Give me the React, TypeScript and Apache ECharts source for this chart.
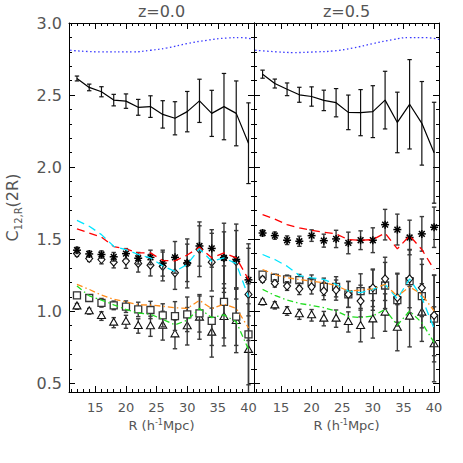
import React, { useEffect, useRef } from 'react';
import * as echarts from 'echarts';

const FONT = 'DejaVu Sans';
const TXT = '#555';

const R = [12, 14, 16, 18, 20, 22, 24, 26, 28, 30, 32, 34, 36, 38, 40];
const X_MIN = [10.7, 10.6];
const X_MAX = [40.9, 40.8];
const Y_MIN = 0.44;
const Y_MAX = 3.0;
const X_MAJOR = [15, 20, 25, 30, 35, 40];
const X_MINOR = [11, 12, 13, 14, 16, 17, 18, 19, 21, 22, 23, 24, 26, 27, 28, 29, 31, 32, 33, 34, 36, 37, 38, 39];
const Y_MAJOR = [0.5, 1.0, 1.5, 2.0, 2.5, 3.0];
const Y_MINOR = [0.6, 0.7, 0.8, 0.9, 1.1, 1.2, 1.3, 1.4, 1.6, 1.7, 1.8, 1.9, 2.1, 2.2, 2.3, 2.4, 2.6, 2.7, 2.8, 2.9];
const TITLES = ['z=0.0', 'z=0.5'];

// ---- z = 0.0 panel ----
const blueXL = [10.9, 15.8, 21.2, 24, 26.7, 30, 33.2, 36.5, 38.7, 40.8];
const blueL = [2.811, 2.8, 2.8, 2.811, 2.827, 2.857, 2.88, 2.896, 2.899, 2.887];
const blackL = [2.615, 2.553, 2.523, 2.465, 2.458, 2.415, 2.42, 2.366, 2.339, 2.385, 2.46, 2.373, 2.42, 2.373, 2.166];
const blackErrL = [0.017, 0.023, 0.035, 0.04, 0.05, 0.055, 0.075, 0.095, 0.115, 0.14, 0.15, 0.16, 0.23, 0.225, 0.28];
const starL = [1.424, 1.398, 1.394, 1.378, 1.4, 1.368, 1.374, 1.334, 1.374, 1.336, 1.453, 1.436, 1.371, 1.36, 1.218];
const starErrL = [0.02, 0.02, 0.025, 0.03, 0.035, 0.04, 0.05, 0.09, 0.11, 0.13, 0.14, 0.13, 0.18, 0.2, 0.25];
const diamondL = [1.401, 1.366, 1.359, 1.341, 1.348, 1.332, 1.32, 1.311, 1.267, 1.332, 1.43, 1.341, 1.371, 1.345, 1.117];
const diamondErrL = [0.02, 0.02, 0.03, 0.04, 0.05, 0.06, 0.075, 0.1, 0.115, 0.17, 0.19, 0.2, 0.24, 0.26, 0.32];
const redL = [1.571, 1.543, 1.515, 1.449, 1.433, 1.405, 1.405, 1.352, 1.35, 1.39, 1.445, 1.371, 1.405, 1.371, 1.221];
const cyanL = [1.631, 1.59, 1.532, 1.451, 1.428, 1.394, 1.371, 1.315, 1.276, 1.325, 1.434, 1.347, 1.371, 1.33, 1.1];
const squareL = [1.11, 1.092, 1.059, 1.041, 1.032, 1.013, 1.009, 0.972, 0.967, 0.979, 0.986, 0.933, 1.065, 0.963, 0.84];
const squareErrL = [0.02, 0.02, 0.03, 0.03, 0.04, 0.05, 0.06, 0.08, 0.1, 0.12, 0.13, 0.17, 0.25, 0.2, 0.35];
const orangeL = [1.186, 1.152, 1.112, 1.083, 1.065, 1.045, 1.043, 1.035, 1.025, 1.02, 1.076, 1.018, 1.05, 1.02, 0.885];
const greenL = [1.175, 1.107, 1.078, 1.045, 1.013, 0.988, 0.979, 0.944, 0.906, 0.938, 1.02, 0.956, 0.975, 0.927, 0.735];
const triangleL = [1.034, 1.0, 0.967, 0.921, 0.927, 0.898, 0.896, 0.9, 0.84, 0.896, 0.956, 0.852, 0.96, 0.933, 0.732];
const triangleErrL = [0.02, 0.02, 0.03, 0.035, 0.045, 0.05, 0.07, 0.1, 0.1, 0.13, 0.15, 0.17, 0.2, 0.22, 0.32];

// ---- z = 0.5 panel ----
const blueXR = [10.8, 14.3, 17, 20.8, 23.5, 26.8, 30, 33.3, 36, 38.2, 40.8];
const blueR = [2.811, 2.8, 2.795, 2.8, 2.806, 2.827, 2.857, 2.885, 2.899, 2.899, 2.887];
const blackR = [2.645, 2.58, 2.54, 2.502, 2.49, 2.463, 2.447, 2.38, 2.378, 2.385, 2.465, 2.31, 2.436, 2.304, 2.1];
const blackErrR = [0.028, 0.031, 0.044, 0.052, 0.067, 0.071, 0.098, 0.12, 0.16, 0.18, 0.2, 0.21, 0.31, 0.29, 0.35];
const starR = [1.543, 1.525, 1.493, 1.486, 1.525, 1.49, 1.502, 1.474, 1.493, 1.493, 1.601, 1.567, 1.512, 1.537, 1.583];
const starErrR = [0.02, 0.025, 0.03, 0.035, 0.04, 0.045, 0.06, 0.075, 0.065, 0.086, 0.106, 0.107, 0.12, 0.12, 0.14];
const diamondR = [1.221, 1.193, 1.175, 1.156, 1.17, 1.14, 1.147, 1.117, 1.071, 1.163, 1.225, 1.094, 1.225, 1.163, 0.972];
const diamondErrR = [0.02, 0.025, 0.03, 0.04, 0.05, 0.06, 0.07, 0.09, 0.11, 0.13, 0.15, 0.17, 0.2, 0.2, 0.28];
const redR = [1.67, 1.64, 1.601, 1.578, 1.562, 1.548, 1.537, 1.497, 1.493, 1.497, 1.543, 1.433, 1.525, 1.428, 1.29];
const cyanR = [1.394, 1.359, 1.313, 1.248, 1.232, 1.221, 1.186, 1.14, 1.129, 1.152, 1.186, 1.087, 1.225, 1.094, 0.88];
const squareR = [1.255, 1.232, 1.221, 1.216, 1.202, 1.17, 1.17, 1.117, 1.14, 1.147, 1.179, 1.078, 1.209, 1.105, 0.949];
const squareErrR = [0.02, 0.025, 0.03, 0.04, 0.05, 0.06, 0.07, 0.09, 0.12, 0.14, 0.16, 0.18, 0.22, 0.22, 0.3];
const orangeR = [1.29, 1.255, 1.232, 1.221, 1.209, 1.198, 1.179, 1.14, 1.147, 1.156, 1.186, 1.105, 1.17, 1.117, 1.002];
const greenR = [1.152, 1.11, 1.078, 1.055, 1.041, 1.025, 1.002, 0.963, 0.956, 0.967, 1.013, 0.903, 1.002, 0.921, 0.783];
const triangleR = [1.064, 1.041, 1.002, 0.979, 0.972, 0.949, 0.949, 0.926, 0.898, 0.944, 0.991, 0.886, 0.963, 0.991, 0.771];
const triangleErrR = [0.02, 0.025, 0.03, 0.035, 0.04, 0.05, 0.06, 0.07, 0.11, 0.13, 0.13, 0.16, 0.21, 0.2, 0.26];

const PANELS = [
  { blueX: blueXL, blue: blueL, black: blackL, blackErr: blackErrL, star: starL, starErr: starErrL, diamond: diamondL, diamondErr: diamondErrL, red: redL, cyan: cyanL, square: squareL, squareErr: squareErrL, orange: orangeL, green: greenL, triangle: triangleL, triangleErr: triangleErrL },
  { blueX: blueXR, blue: blueR, black: blackR, blackErr: blackErrR, star: starR, starErr: starErrR, diamond: diamondR, diamondErr: diamondErrR, red: redR, cyan: cyanR, square: squareR, squareErr: squareErrR, orange: orangeR, green: greenR, triangle: triangleR, triangleErr: triangleErrR },
];

const GRIDS = [
  { left: 69, top: 23, width: 185, height: 369 },
  { left: 254, top: 23, width: 185, height: 369 },
];

const makeRender = (kind: string) => (params: any, api: any) => {
  const x = api.value(0), y = api.value(1), e = api.value(2);
  const c = api.coord([x, y]);
  const hi = Math.min(y + e, Y_MAX), lo = Math.max(y - e, Y_MIN);
  const t = api.coord([x, hi]);
  const b = api.coord([x, lo]);
  const bar = { stroke: kind === 'none' ? '#111' : '#3a3a3a', lineWidth: kind === 'none' ? 1.2 : 1.4 };
  const ch: any[] = [{ type: 'line', shape: { x1: c[0], y1: t[1], x2: c[0], y2: b[1] }, style: bar }];
  const cw = 2.2;
  if (y + e < Y_MAX) ch.push({ type: 'line', shape: { x1: c[0] - cw, y1: t[1], x2: c[0] + cw, y2: t[1] }, style: bar });
  if (y - e > Y_MIN) ch.push({ type: 'line', shape: { x1: c[0] - cw, y1: b[1], x2: c[0] + cw, y2: b[1] }, style: bar });
  const ms = { stroke: '#111', lineWidth: 1.1, fill: '#fff' };
  const cx = c[0], cy = c[1];
  if (kind === 'star') {
    const h = 4;
    const d = h * 0.72;
    ch.push({ type: 'line', shape: { x1: cx - h, y1: cy, x2: cx + h, y2: cy }, style: { stroke: '#000', lineWidth: 1.5 } });
    ch.push({ type: 'line', shape: { x1: cx, y1: cy - h, x2: cx, y2: cy + h }, style: { stroke: '#000', lineWidth: 1.5 } });
    ch.push({ type: 'line', shape: { x1: cx - d, y1: cy - d, x2: cx + d, y2: cy + d }, style: { stroke: '#000', lineWidth: 1.5 } });
    ch.push({ type: 'line', shape: { x1: cx - d, y1: cy + d, x2: cx + d, y2: cy - d }, style: { stroke: '#000', lineWidth: 1.5 } });
  } else if (kind === 'diamond') {
    ch.push({ type: 'polygon', shape: { points: [[cx, cy - 4], [cx + 3.5, cy], [cx, cy + 4], [cx - 3.5, cy]] }, style: ms });
  } else if (kind === 'square') {
    ch.push({ type: 'rect', shape: { x: cx - 3.5, y: cy - 3.5, width: 7, height: 7 }, style: { stroke: '#333', lineWidth: 1.3, fill: '#fff' } });
  } else if (kind === 'triangle') {
    ch.push({ type: 'polygon', shape: { points: [[cx, cy - 4.5], [cx + 4, cy + 2.5], [cx - 4, cy + 2.5]] }, style: ms });
  }
  return { type: 'group', children: ch };
};

function buildOption() {
  const xAxis: any[] = [];
  const yAxis: any[] = [];
  for (let g = 0; g < 2; g++) {
    const xDefs = [
      { pos: 'bottom', major: true, label: true },
      { pos: 'bottom', major: false, label: false },
      { pos: 'top', major: true, label: false },
      { pos: 'top', major: false, label: false },
    ];
    xDefs.forEach((d) => {
      xAxis.push({
        type: 'value', gridIndex: g, position: d.pos, min: X_MIN[g], max: X_MAX[g],
        axisLine: { show: d.major, onZero: false, lineStyle: { color: '#000', width: 1 } },
        axisTick: { show: true, inside: true, length: d.major ? 6 : 3, customValues: d.major ? X_MAJOR : X_MINOR, lineStyle: { color: '#000', width: 1 } },
        axisLabel: d.label
          ? { show: true, customValues: X_MAJOR, margin: 9, fontSize: 13, color: TXT, fontFamily: FONT }
          : { show: false },
        splitLine: { show: false },
        name: d.label ? 'R (h{sup|-1}Mpc)' : '',
        nameLocation: 'middle',
        nameGap: 26,
        nameTextStyle: {
          fontSize: 13, color: TXT, fontFamily: FONT,
          rich: { sup: { fontSize: 8, color: TXT, fontFamily: FONT, verticalAlign: 'top', lineHeight: 14 } },
        },
      });
    });
    const yDefs = [
      { pos: 'left', major: true, label: g === 0 },
      { pos: 'left', major: false, label: false },
      { pos: 'right', major: true, label: false },
      { pos: 'right', major: false, label: false },
    ];
    yDefs.forEach((d) => {
      yAxis.push({
        type: 'value', gridIndex: g, position: d.pos, min: Y_MIN, max: Y_MAX,
        axisLine: { show: d.major, onZero: false, lineStyle: { color: '#000', width: 1 } },
        axisTick: { show: true, inside: true, length: d.major ? 6 : 3, customValues: d.major ? Y_MAJOR : Y_MINOR, lineStyle: { color: '#000', width: 1 } },
        axisLabel: d.label
          ? { show: true, customValues: Y_MAJOR, margin: 7, fontSize: 16, color: TXT, fontFamily: FONT, formatter: (v: number) => v.toFixed(1) }
          : { show: false },
        splitLine: { show: false },
        name: d.label ? 'C{sub|12,R}(2R)' : '',
        nameLocation: 'middle',
        nameGap: 46,
        nameTextStyle: {
          fontSize: 16, color: TXT, fontFamily: FONT,
          rich: { sub: { fontSize: 10, color: TXT, fontFamily: FONT, verticalAlign: 'bottom', lineHeight: 22 } },
        },
      });
    });
  }

  const series: any[] = [];
  PANELS.forEach((P, p) => {
    const xi = p * 4, yi = p * 4;
    const line = (vals: number[], xs: number[], color: string, type: any, width: number, smooth = false) => ({
      type: 'line', xAxisIndex: xi, yAxisIndex: yi, showSymbol: false, symbol: 'none', smooth,
      data: xs.map((x, i) => [x, vals[i]]), z: 4, silent: true,
      lineStyle: { color, width, type },
    });
    const custom = (vals: number[], errs: number[], kind: string) => ({
      type: 'custom', xAxisIndex: xi, yAxisIndex: yi, renderItem: makeRender(kind), silent: true, z: 3,
      encode: { x: 0, y: 1 },
      data: R.map((r, i) => [r, vals[i], errs[i]]),
    });
    series.push(line(P.blue, P.blueX, '#3a3aff', [1.5, 2.5], 1.3, true));
    series.push(custom(P.black, P.blackErr, 'none'));
    series.push(line(P.black, R, '#000', 'solid', 1.2));
    series.push(custom(P.triangle, P.triangleErr, 'triangle'));
    series.push(custom(P.square, P.squareErr, 'square'));
    series.push(custom(P.diamond, P.diamondErr, 'diamond'));
    series.push(custom(P.star, P.starErr, 'star'));
    series.push(line(P.red, R, '#ff0000', [8, 5], 1.3));
    series.push(line(P.cyan, R, '#00e5ff', [8, 5], 1.3));
    series.push(line(P.orange, R, '#ff8c1a', [6, 3, 1.5, 3], 1.3));
    series.push(line(P.green, R, '#22dd22', [6, 3, 1.5, 3], 1.3));
  });

  return {
    animation: false,
    backgroundColor: '#fff',
    grid: GRIDS,
    xAxis,
    yAxis,
    series,
    graphic: TITLES.map((t, g) => ({
      type: 'text',
      x: GRIDS[g].left + GRIDS[g].width / 2,
      y: 11,
      style: { text: t, align: 'center', verticalAlign: 'middle', fontSize: 16, fill: TXT, fontFamily: FONT },
    })),
  };
}

export default function App() {
  const ref = useRef<HTMLDivElement>(null);
  useEffect(() => {
    const chart = echarts.init(ref.current!, null, { renderer: 'svg' });
    chart.setOption(buildOption() as any);
    return () => chart.dispose();
  }, []);
  return <div ref={ref} style={{ position: 'fixed', left: 0, top: 0, width: 463, height: 463, background: '#fff' }} />;
}
